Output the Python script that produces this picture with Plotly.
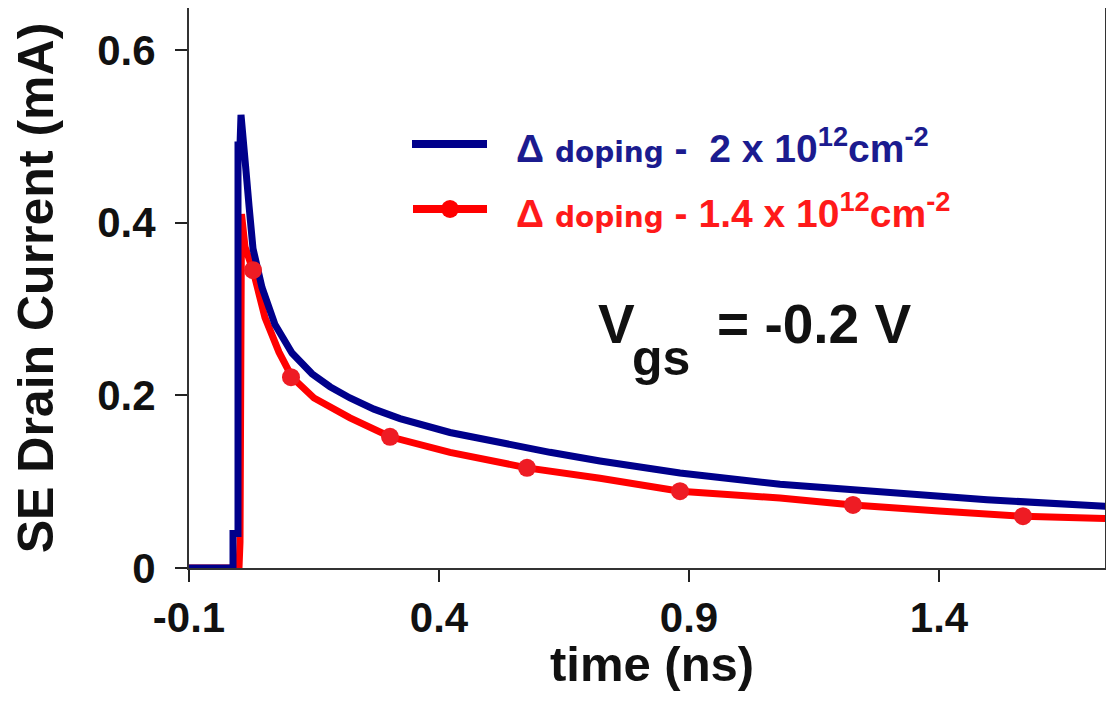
import plotly.graph_objects as go

# ---- data ----
blue_t = [-0.1, -0.012, -0.012, -0.002, -0.002, 0.002, 0.004, 0.008, 0.014, 0.020,
          0.028, 0.046, 0.072, 0.106, 0.146, 0.182, 0.222, 0.270, 0.322, 0.422,
          0.522, 0.622, 0.722, 0.882, 1.082, 1.282, 1.496, 1.75]
blue_v = [0.0, 0.0, 0.04, 0.04, 0.49, 0.49, 0.525, 0.49, 0.46, 0.42,
          0.37, 0.325, 0.282, 0.249, 0.225, 0.210, 0.197, 0.184, 0.173, 0.157,
          0.145, 0.134, 0.124, 0.110, 0.097, 0.088, 0.079, 0.071]

red_t = [-0.1, 0.0, 0.002, 0.005, 0.012, 0.028, 0.052, 0.080, 0.106, 0.150,
         0.222, 0.302, 0.422, 0.522, 0.576, 0.722, 0.882, 1.082, 1.228, 1.400,
         1.568, 1.75]
red_v = [0.0, 0.0, 0.03, 0.41, 0.372, 0.345, 0.29, 0.25, 0.221, 0.197,
         0.174, 0.152, 0.134, 0.123, 0.116, 0.104, 0.089, 0.081, 0.073, 0.066,
         0.060, 0.057]

red_mk_t = [0.028, 0.104, 0.302, 0.576, 0.882, 1.228, 1.568]
red_mk_v = [0.345, 0.221, 0.152, 0.116, 0.089, 0.073, 0.060]

x_ticks = [-0.1, 0.4, 0.9, 1.4]
x_labels = ["-0.1", "0.4", "0.9", "1.4"]
y_ticks = [0, 0.2, 0.4, 0.6]
y_labels = ["0", "0.2", "0.4", "0.6"]

x_title = "time (ns)"
y_title = "SE Drain Current (mA)"
legend_blue = "2 x 10"
legend_red = "1.4 x 10"

# ---- page geometry: the html body keeps an 8px margin, so size the figure
# to fit inside the visible area and convert page pixels to paper fractions ----
OFF = 8
FW, FH = 1098, 690
L, R, T, B = 189, 1105, OFF, 568          # plot area in page pixels
X_MAX = 1.732                              # keeps 500 px per ns as in the reference


def px(x):
    return (x - L) / (R - L)


def py(y):
    return (B - y) / (B - T)


BLUE = "#00008b"
RED = "#ff0000"
AX = "Liberation Sans"

fig = go.Figure()
fig.add_trace(go.Scatter(x=red_t, y=red_v, mode="lines",
                         line=dict(color=RED, width=7), showlegend=False))
fig.add_trace(go.Scatter(x=blue_t, y=blue_v, mode="lines",
                         line=dict(color=BLUE, width=7), showlegend=False))
fig.add_trace(go.Scatter(x=red_mk_t, y=red_mk_v, mode="markers",
                         marker=dict(color="#ee1c24", size=18), showlegend=False))

tickfont = dict(family=AX, size=42, color="#111", weight="bold")
titlefont = dict(family=AX, size=50, color="#111", weight="bold")

fig.update_layout(
    width=FW, height=FH,
    margin=dict(l=L - OFF, r=FW - (R - OFF), t=T - OFF, b=FH - (B - OFF)),
    plot_bgcolor="white", paper_bgcolor="white",
    showlegend=False,
)
fig.update_xaxes(
    range=[-0.1, X_MAX], tickvals=x_ticks, ticktext=x_labels,
    ticks="outside", ticklen=12, tickwidth=2, tickcolor="#222",
    showline=True, linecolor="#333", linewidth=2, mirror=True,
    showgrid=False, zeroline=False, tickfont=tickfont, ticklabelstandoff=0,
    automargin=False,
)
fig.update_yaxes(
    range=[0, 0.6487], tickvals=y_ticks, ticktext=y_labels,
    ticks="outside", ticklen=12, tickwidth=2, tickcolor="#222",
    showline=True, linecolor="#333", linewidth=2, mirror=True,
    showgrid=False, zeroline=False, tickfont=tickfont, ticklabelstandoff=11,
    automargin=False,
    title=dict(text=y_title, font=titlefont, standoff=30),
)

# x-axis title placed as annotation (finer vertical control)
fig.add_annotation(xref="paper", yref="paper", x=px(652), y=py(664),
                   xanchor="center", yanchor="middle", showarrow=False,
                   text=x_title, font=dict(family=AX, size=49, color="#111", weight="bold"))

# ---- hand-drawn legend ----
fig.add_shape(type="line", xref="paper", yref="paper",
              x0=px(412), x1=px(487), y0=py(144), y1=py(144),
              line=dict(color=BLUE, width=8))
fig.add_shape(type="line", xref="paper", yref="paper",
              x0=px(413), x1=px(487), y0=py(209), y1=py(209),
              line=dict(color=RED, width=8))
fig.add_shape(type="circle", xref="paper", yref="paper",
              xsizemode="pixel", ysizemode="pixel",
              xanchor=px(450), yanchor=py(209), x0=-9, x1=9, y0=-9, y1=9,
              fillcolor=RED, line=dict(color=RED, width=0))

dop = "<span style='font-family:DejaVu Sans;font-size:28px'>doping</span>"
fig.add_annotation(
    xref="paper", yref="paper", x=px(514), y=py(145), xanchor="left", yanchor="middle",
    showarrow=False,
    text="Δ " + dop + " -  " + legend_blue + "<sup>12</sup>cm<sup>-2</sup>",
    font=dict(family=AX, size=39, color="#1b1b8f", weight="bold"),
)
fig.add_annotation(
    xref="paper", yref="paper", x=px(514), y=py(210), xanchor="left", yanchor="middle",
    showarrow=False,
    text="Δ " + dop + " - " + legend_red + "<sup>12</sup>cm<sup>-2</sup>",
    font=dict(family=AX, size=39, color="#ff1a1a", weight="bold"),
)

# ---- V_gs label ----
vfont = dict(family=AX, size=55, color="#111", weight="bold")
fig.add_annotation(xref="paper", yref="paper", x=px(596), y=py(324),
                   xanchor="left", yanchor="middle", showarrow=False,
                   text="V", font=vfont)
fig.add_annotation(xref="paper", yref="paper", x=px(630), y=py(358),
                   xanchor="left", yanchor="middle", showarrow=False,
                   text="gs", font=dict(family=AX, size=50, color="#111", weight="bold"))
fig.add_annotation(xref="paper", yref="paper", x=px(715), y=py(324),
                   xanchor="left", yanchor="middle", showarrow=False,
                   text="= -0.2 V", font=vfont)

fig.write_html("out.html")
